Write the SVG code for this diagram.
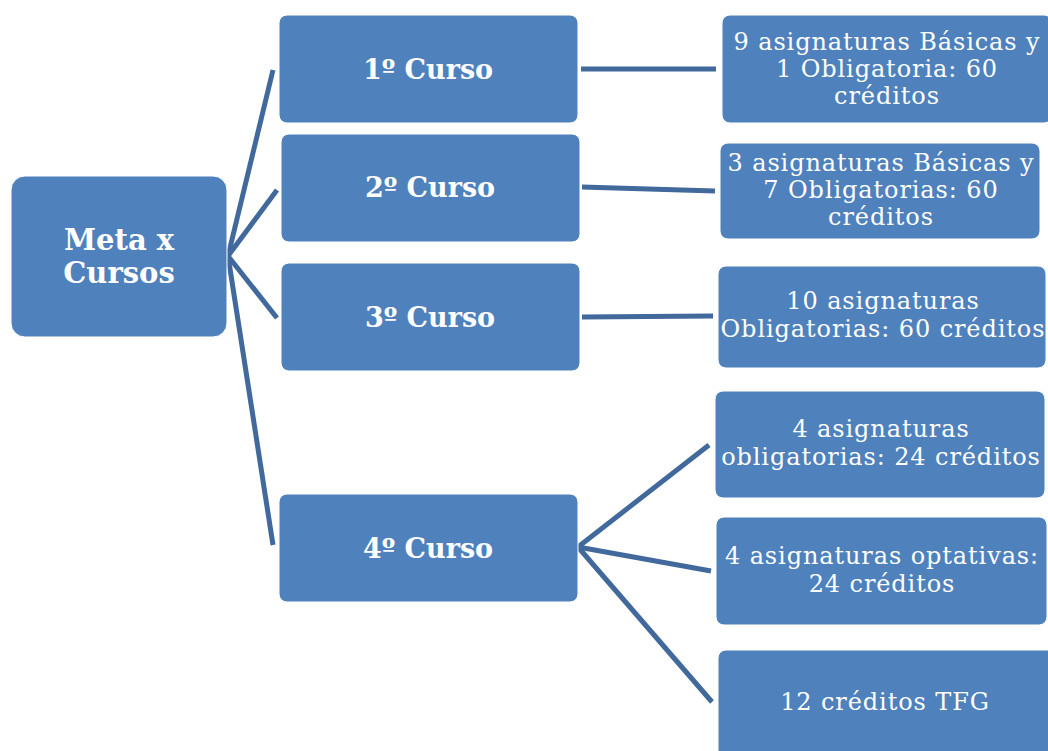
<svg xmlns="http://www.w3.org/2000/svg" width="1048" height="751" viewBox="0 0 1048 751">
<style>
.box{fill:#4f81bd;stroke:#ffffff;stroke-width:1}
.lbl{font-family:"DejaVu Serif","Liberation Serif",serif;font-weight:bold;font-size:27px;fill:#ffffff;text-anchor:middle;dominant-baseline:central}
.root{font-size:29px}
.txt{font-family:"DejaVu Serif","Liberation Serif",serif;font-size:24px;letter-spacing:0.9px;fill:#ffffff;text-anchor:middle;dominant-baseline:central}
.con{stroke:#41699c;stroke-width:5;fill:none;stroke-linecap:butt}
</style>
<rect width="1048" height="751" fill="#ffffff"/>
<g id="connectors">
<line class="con" x1="228" y1="256" x2="273" y2="70"/>
<line class="con" x1="228" y1="256" x2="277" y2="190"/>
<line class="con" x1="228" y1="256" x2="277" y2="318"/>
<line class="con" x1="228" y1="256" x2="273" y2="545"/>
<line class="con" x1="581" y1="69" x2="716" y2="69"/>
<line class="con" x1="582" y1="187" x2="715" y2="191"/>
<line class="con" x1="582" y1="317" x2="713" y2="316"/>
<line class="con" x1="578" y1="547" x2="709" y2="445"/>
<line class="con" x1="578" y1="547" x2="711" y2="571"/>
<line class="con" x1="578" y1="547" x2="712" y2="702"/>
</g>
<g id="root">
<rect class="box" x="11" y="176" width="216" height="161" rx="14"/>
<text class="lbl root" x="119" y="240">Meta x</text>
<text class="lbl root" x="119" y="273">Cursos</text>
</g>
<g id="c1">
<rect class="box" x="279" y="15" width="299" height="108" rx="8"/>
<text class="lbl" x="428" y="69">1º Curso</text>
</g>
<g id="c2">
<rect class="box" x="281" y="134" width="299" height="108" rx="8"/>
<text class="lbl" x="430" y="187">2º Curso</text>
</g>
<g id="c3">
<rect class="box" x="281" y="263" width="299" height="108" rx="8"/>
<text class="lbl" x="430" y="317">3º Curso</text>
</g>
<g id="c4">
<rect class="box" x="279" y="494" width="299" height="108" rx="8"/>
<text class="lbl" x="428" y="548">4º Curso</text>
</g>
<g id="r1">
<rect class="box" x="722" y="15" width="330" height="108" rx="8"/>
<text class="txt" x="887" y="42">9 asignaturas Básicas y</text>
<text class="txt" x="887" y="69">1 Obligatoria: 60</text>
<text class="txt" x="887" y="96">créditos</text>
</g>
<g id="r2">
<rect class="box" x="720" y="143" width="320" height="96" rx="8"/>
<text class="txt" x="881" y="163">3 asignaturas Básicas y</text>
<text class="txt" x="881" y="190">7 Obligatorias: 60</text>
<text class="txt" x="881" y="217">créditos</text>
</g>
<g id="r3">
<rect class="box" x="718" y="266" width="328" height="102" rx="8"/>
<text class="txt" x="883" y="301">10 asignaturas</text>
<text class="txt" x="883" y="329">Obligatorias: 60 créditos</text>
</g>
<g id="r4">
<rect class="box" x="715" y="391" width="330" height="107" rx="8"/>
<text class="txt" x="881" y="429">4 asignaturas</text>
<text class="txt" x="881" y="457">obligatorias: 24 créditos</text>
</g>
<g id="r5">
<rect class="box" x="716" y="517" width="331" height="108" rx="8"/>
<text class="txt" x="882" y="556">4 asignaturas optativas:</text>
<text class="txt" x="882" y="584">24 créditos</text>
</g>
<g id="r6">
<rect class="box" x="718" y="650" width="340" height="120" rx="8"/>
<text class="txt" x="885" y="702">12 créditos TFG</text>
</g>
</svg>
